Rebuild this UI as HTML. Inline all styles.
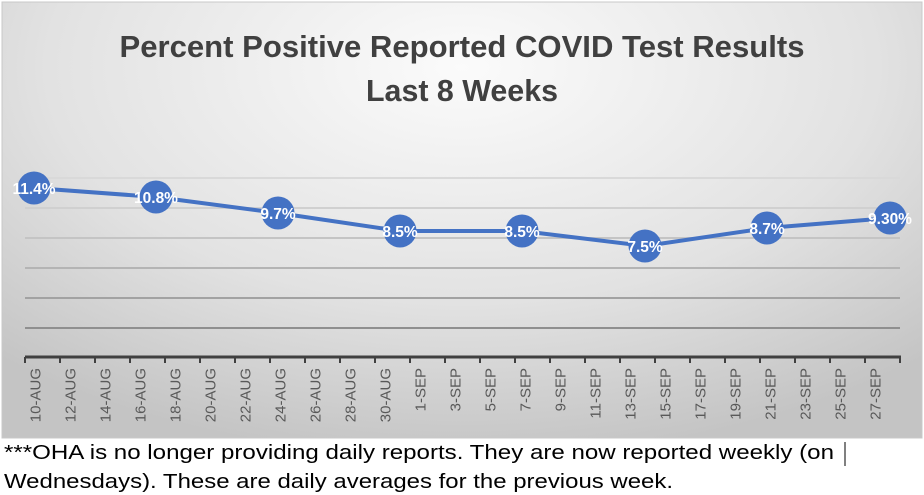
<!DOCTYPE html>
<html><head><meta charset="utf-8"><style>
html,body{margin:0;padding:0;background:#fff;}
svg{display:block;font-family:"Liberation Sans",Arial,sans-serif;}
</style></head><body>
<svg width="924" height="495" viewBox="0 0 924 495" xmlns="http://www.w3.org/2000/svg">
<defs>
<radialGradient id="bg" cx="0.5" cy="0.15" r="0.75" gradientTransform="translate(0.5 0.15) scale(1 1.2) translate(-0.5 -0.15)">
<stop offset="0" stop-color="#fbfbfb"/>
<stop offset="0.6" stop-color="#e2e2e2"/>
<stop offset="1" stop-color="#c4c4c4"/>
</radialGradient>
</defs>
<rect x="2" y="2" width="920" height="436" fill="url(#bg)" stroke="#c8c8c8" stroke-width="1"/>
<g font-weight="bold" fill="#404040" font-size="31" text-anchor="middle">
<text x="462" y="57" textLength="685" lengthAdjust="spacingAndGlyphs">Percent Positive Reported COVID Test Results</text>
<text x="462" y="101" textLength="192" lengthAdjust="spacingAndGlyphs">Last 8 Weeks</text>
</g>
<g stroke-width="2">
<line x1="25" x2="900" y1="178" y2="178" stroke="#d9d9d9"/>
<line x1="25" x2="900" y1="208" y2="208" stroke="#d0d0d0"/>
<line x1="25" x2="900" y1="238" y2="238" stroke="#c4c4c4"/>
<line x1="25" x2="900" y1="268" y2="268" stroke="#b4b4b4"/>
<line x1="25" x2="900" y1="298" y2="298" stroke="#a2a2a2"/>
<line x1="25" x2="900" y1="328" y2="328" stroke="#8f8f8f"/>
</g>
<line x1="25" x2="901" y1="357" y2="357" stroke="#404040" stroke-width="3"/>
<path stroke="#404040" stroke-width="2" d="M25 357v6M60 357v6M95 357v6M130 357v6M165 357v6M200 357v6M235 357v6M270 357v6M305 357v6M340 357v6M375 357v6M410 357v6M445 357v6M480 357v6M515 357v6M550 357v6M585 357v6M620 357v6M655 357v6M690 357v6M725 357v6M760 357v6M795 357v6M830 357v6M865 357v6M900 357v6"/>
<g font-size="15" fill="#595959" text-anchor="end">
<text transform="translate(40.5,368) rotate(-90)">10-AUG</text>
<text transform="translate(75.5,368) rotate(-90)">12-AUG</text>
<text transform="translate(110.5,368) rotate(-90)">14-AUG</text>
<text transform="translate(145.5,368) rotate(-90)">16-AUG</text>
<text transform="translate(180.5,368) rotate(-90)">18-AUG</text>
<text transform="translate(215.5,368) rotate(-90)">20-AUG</text>
<text transform="translate(250.5,368) rotate(-90)">22-AUG</text>
<text transform="translate(285.5,368) rotate(-90)">24-AUG</text>
<text transform="translate(320.5,368) rotate(-90)">26-AUG</text>
<text transform="translate(355.5,368) rotate(-90)">28-AUG</text>
<text transform="translate(390.5,368) rotate(-90)">30-AUG</text>
<text transform="translate(425.5,368) rotate(-90)">1-SEP</text>
<text transform="translate(460.5,368) rotate(-90)">3-SEP</text>
<text transform="translate(495.5,368) rotate(-90)">5-SEP</text>
<text transform="translate(530.5,368) rotate(-90)">7-SEP</text>
<text transform="translate(565.5,368) rotate(-90)">9-SEP</text>
<text transform="translate(600.5,368) rotate(-90)">11-SEP</text>
<text transform="translate(635.5,368) rotate(-90)">13-SEP</text>
<text transform="translate(670.5,368) rotate(-90)">15-SEP</text>
<text transform="translate(705.5,368) rotate(-90)">17-SEP</text>
<text transform="translate(740.5,368) rotate(-90)">19-SEP</text>
<text transform="translate(775.5,368) rotate(-90)">21-SEP</text>
<text transform="translate(810.5,368) rotate(-90)">23-SEP</text>
<text transform="translate(845.5,368) rotate(-90)">25-SEP</text>
<text transform="translate(880.5,368) rotate(-90)">27-SEP</text>
</g>
<polyline points="34,188 156,197 278,213 400,231 522,231 645,246 767,228 890,218" fill="none" stroke="#4472c4" stroke-width="4"/>
<g fill="#4472c4">
<circle cx="34" cy="188" r="16.5"/><circle cx="156" cy="197" r="16.5"/><circle cx="278" cy="213" r="16.5"/><circle cx="400" cy="231" r="16.5"/><circle cx="522" cy="231" r="16.5"/><circle cx="645" cy="246" r="16.5"/><circle cx="767" cy="228" r="16.5"/><circle cx="890" cy="218" r="16.5"/>
</g>
<g fill="#fff" font-weight="bold" font-size="15.5" text-anchor="middle">
<text x="34" y="194">11.4%</text><text x="156" y="203">10.8%</text><text x="278" y="219">9.7%</text><text x="400" y="237">8.5%</text><text x="522" y="237">8.5%</text><text x="645" y="252">7.5%</text><text x="767" y="234">8.7%</text><text x="890" y="224">9.30%</text>
</g>
<g font-size="20" fill="#000">
<text x="4" y="459" textLength="830" lengthAdjust="spacingAndGlyphs">***OHA is no longer providing daily reports.  They are now reported weekly (on</text>
<text x="4" y="488" textLength="669" lengthAdjust="spacingAndGlyphs">Wednesdays). These are daily averages for the previous week.</text>
</g>
<line x1="845" x2="845" y1="442" y2="466" stroke="#000" stroke-width="1"/>
</svg>
</body></html>
